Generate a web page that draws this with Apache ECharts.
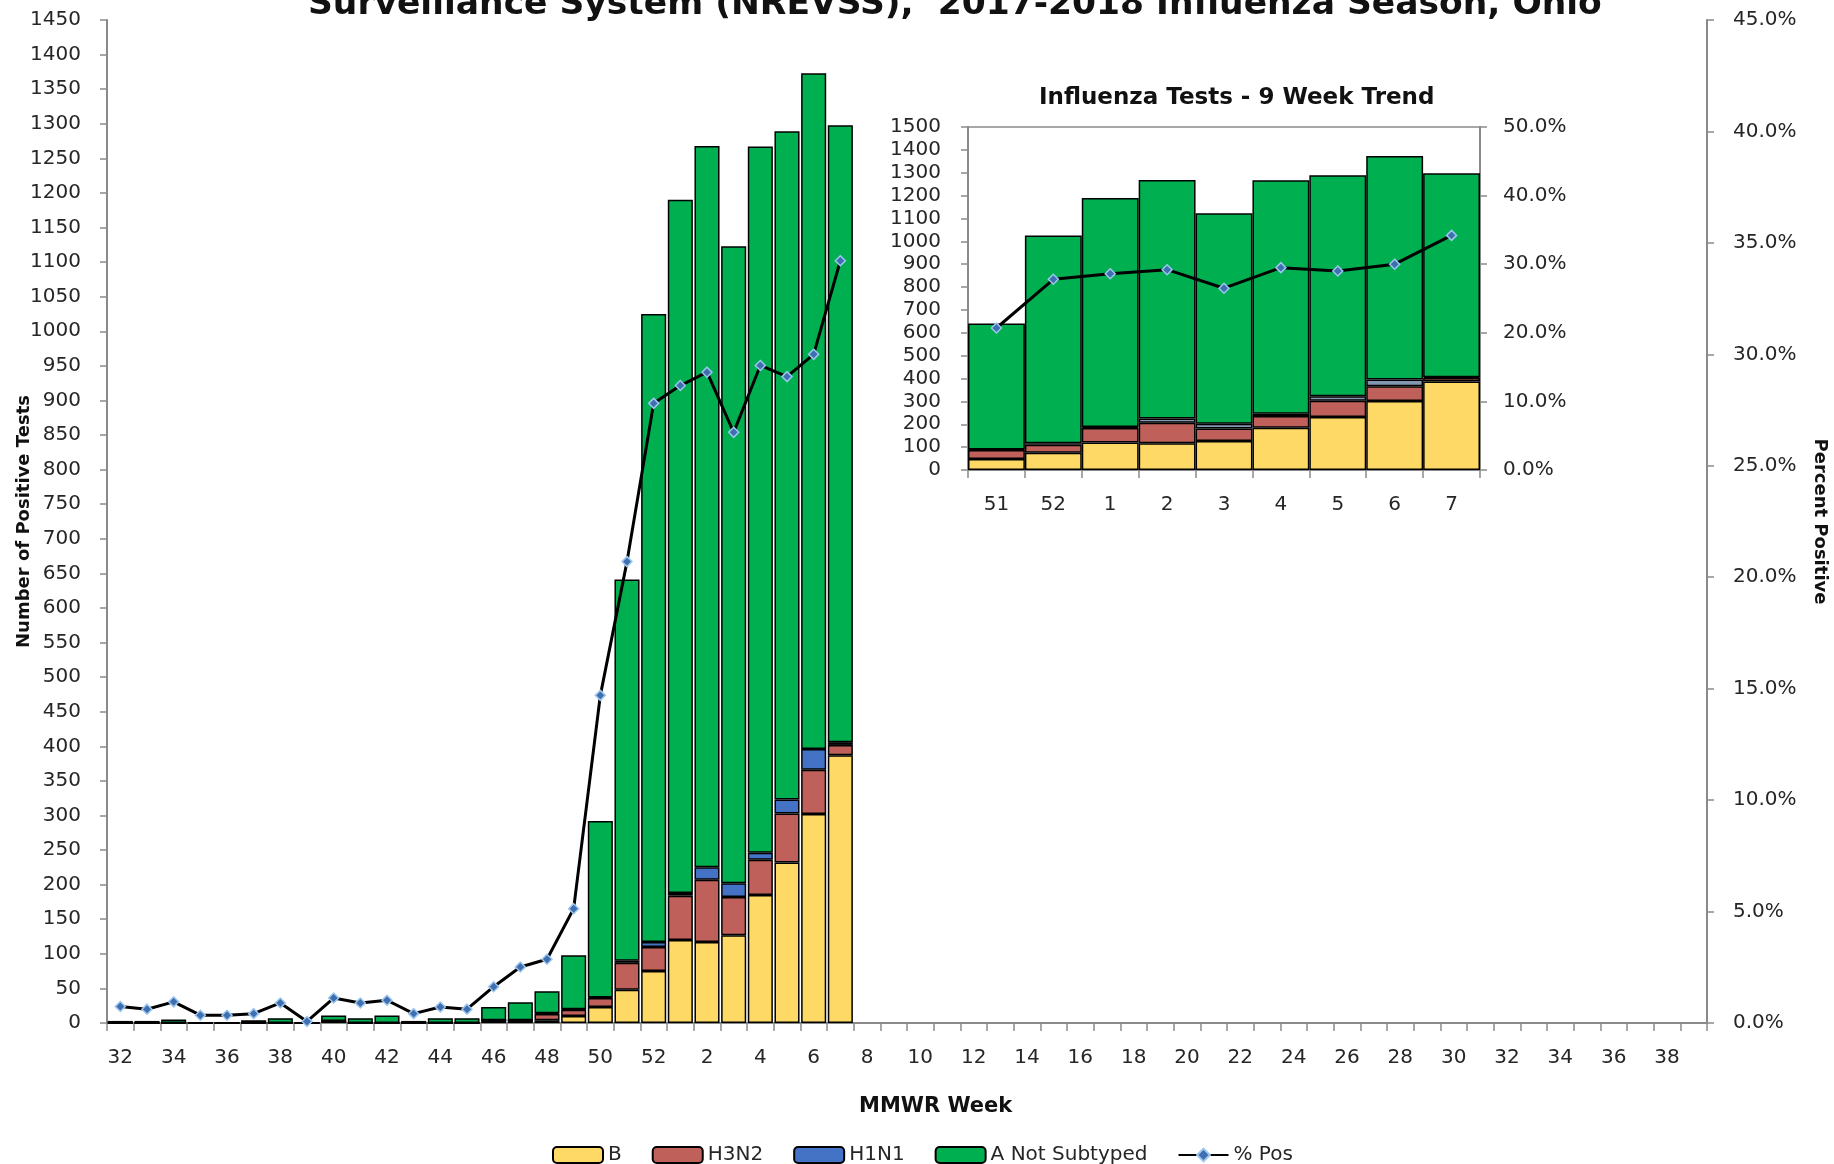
<!DOCTYPE html>
<html><head><meta charset="utf-8">
<script src="https://cdn.jsdelivr.net/npm/echarts@6/dist/echarts.min.js"></script>
<style>html,body{margin:0;padding:0;background:#fff}#c{width:1834px;height:1164px}</style>
</head><body><div id="c"></div>
<script>
// MMWR week categories (2017 weeks 32-52, 2018 weeks 1-39)
const weeks = ['32','33','34','35','36','37','38','39','40','41','42','43','44','45','46','47','48','49','50','51','52',
  '1','2','3','4','5','6','7','8','9','10','11','12','13','14','15','16','17','18','19','20','21','22','23','24','25','26','27','28','29','30','31','32','33','34','35','36','37','38','39'];
// reported weeks 32 .. 7
const bVals    = [0,0,0,0,0,0,0,0,3,0,0,0,0,0,4,4,4,10,23,48,75,120,117,127,185,232,302,387];
const h3n2Vals = [0,0,0,0,0,0,0,0,0,0,0,0,0,0,0,0,9,9,13,39,35,64,90,55,51,71,64,15];
const h1n1Vals = [0,0,0,0,0,0,0,0,0,0,0,0,0,0,0,0,1,1,1,3,7,4,18,20,10,20,30,4];
const ansVals  = [3,3,5,1,1,4,7,1,8,7,11,3,7,7,19,26,32,78,255,551,908,1002,1043,921,1021,966,977,892];
const pctPos   = [0.74,0.62,0.95,0.35,0.35,0.42,0.90,0.07,1.12,0.90,1.02,0.42,0.72,0.62,1.63,2.51,2.86,5.13,14.7,20.7,27.8,28.6,29.2,26.5,29.5,29.0,30.0,34.2];
// 9 week trend inset
const insetWeeks = ['51','52','1','2','3','4','5','6','7'];
const leftTicks = {min:0, max:1450, interval:50};
const rightTicks = {min:0, max:45, interval:5};
const insetLeftTicks = {min:0, max:1500, interval:100};
const insetRightTicks = {min:0, max:50, interval:10};

const n = insetWeeks.length;
const last = a => a.slice(a.length - n);

const FONT = 'DejaVu Sans';
const TXT = '#262626';
const AX = '#8a8a8a';
const colB = '#FFD966', colH3 = '#C0605A', colH1 = '#4472C4', colA = '#00B050', colH1inset = '#8497B0';
const pctFmt = v => v.toFixed(1) + '%';
const numFmt = v => String(v);

function barS(name, data, color, xi, yi, stack, gap) {
  return {name, type:'bar', data, xAxisIndex:xi, yAxisIndex:yi, stack, barCategoryGap:gap,
    itemStyle:{color, borderColor:'#000', borderWidth:1.5}, emphasis:{disabled:true}};
}
function lineS(data, xi, yi) {
  return {name:'% Pos', type:'line', data, xAxisIndex:xi, yAxisIndex:yi, z:5,
    symbol:'diamond', symbolSize:10, lineStyle:{color:'#000', width:3},
    itemStyle:{color:'#3F6FB0', borderColor:'#9CC7EE', borderWidth:1.5}, emphasis:{disabled:true}};
}
function valAxis(t, grid, pos, margin, fmt) {
  return {type:'value', gridIndex:grid, position:pos, min:t.min, max:t.max, interval:t.interval,
    splitLine:{show:false},
    axisLine:{show:true, lineStyle:{color:AX, width:2}},
    axisTick:{show:true, length:7, lineStyle:{color:AX, width:1.5}},
    axisLabel:{margin, fontSize:20, fontFamily:FONT, color:TXT, formatter:fmt}};
}

const chart = echarts.init(document.getElementById('c'), null, {renderer:'canvas'});
chart.setOption({
  animation:false,
  backgroundColor:'#fff',
  title:[
    {text:'Surveillance System (NREVSS),  2017-2018 Influenza Season, Ohio', left:303, top:-17,
     textStyle:{fontFamily:FONT, fontWeight:'bold', fontSize:34.5, color:'#111'}},
    {text:'Influenza Tests - 9 Week Trend', left:1034, top:82,
     textStyle:{fontFamily:FONT, fontWeight:'bold', fontSize:23, color:'#111'}},
    {text:'MMWR Week', left:854, top:1091,
     textStyle:{fontFamily:FONT, fontWeight:'bold', fontSize:21, color:'#111'}}
  ],
  legend:{data:['B','H3N2','H1N1','A Not Subtyped','% Pos'], left:547, top:1140,
    itemWidth:50, itemHeight:16, itemGap:30,
    textStyle:{fontFamily:FONT, fontSize:20, color:TXT}},
  grid:[
    {left:107, right:127, top:20, bottom:141, containLabel:false, outerBoundsMode:'none'},
    {left:968, right:354, top:127, bottom:694, containLabel:false, outerBoundsMode:'none',
     show:true, borderColor:AX, borderWidth:1.5, backgroundColor:'#fff'}
  ],
  xAxis:[
    {type:'category', data:weeks, gridIndex:0,
     axisLine:{lineStyle:{color:AX, width:2}},
     axisTick:{show:true, interval:0, length:8, lineStyle:{color:AX, width:1.5}},
     axisLabel:{interval:1, margin:25, fontSize:20, fontFamily:FONT, color:TXT}},
    {type:'category', data:insetWeeks, gridIndex:1,
     axisLine:{lineStyle:{color:AX, width:2}},
     axisTick:{show:true, interval:0, length:8, lineStyle:{color:AX, width:1.5}},
     axisLabel:{interval:0, margin:25, fontSize:20, fontFamily:FONT, color:TXT}}
  ],
  yAxis:[
    Object.assign(valAxis(leftTicks, 0, 'left', 26, numFmt), {name:'Number of Positive Tests', nameLocation:'middle', nameGap:74,
      nameMoveOverlap:false,
      nameTextStyle:{fontFamily:FONT, fontWeight:'bold', fontSize:18, color:'#111'}}),
    Object.assign(valAxis(rightTicks, 0, 'right', 26, pctFmt), {name:'Percent Positive', nameLocation:'middle', nameGap:104, nameRotate:-90,
      nameMoveOverlap:false,
      nameTextStyle:{fontFamily:FONT, fontWeight:'bold', fontSize:18, color:'#111'}}),
    valAxis(insetLeftTicks, 1, 'left', 27, numFmt),
    valAxis(insetRightTicks, 1, 'right', 23, pctFmt)
  ],
  series:[
    barS('B', bVals, colB, 0, 0, 'main', '6%'),
    barS('H3N2', h3n2Vals, colH3, 0, 0, 'main', '6%'),
    barS('H1N1', h1n1Vals, colH1, 0, 0, 'main', '6%'),
    barS('A Not Subtyped', ansVals, colA, 0, 0, 'main', '6%'),
    lineS(pctPos, 0, 1),
    barS('B', last(bVals), colB, 1, 2, 'inset', '0%'),
    barS('H3N2', last(h3n2Vals), colH3, 1, 2, 'inset', '0%'),
    barS('H1N1', last(h1n1Vals), colH1inset, 1, 2, 'inset', '0%'),
    barS('A Not Subtyped', last(ansVals), colA, 1, 2, 'inset', '0%'),
    lineS(last(pctPos), 1, 3)
  ]
});
</script></body></html>
